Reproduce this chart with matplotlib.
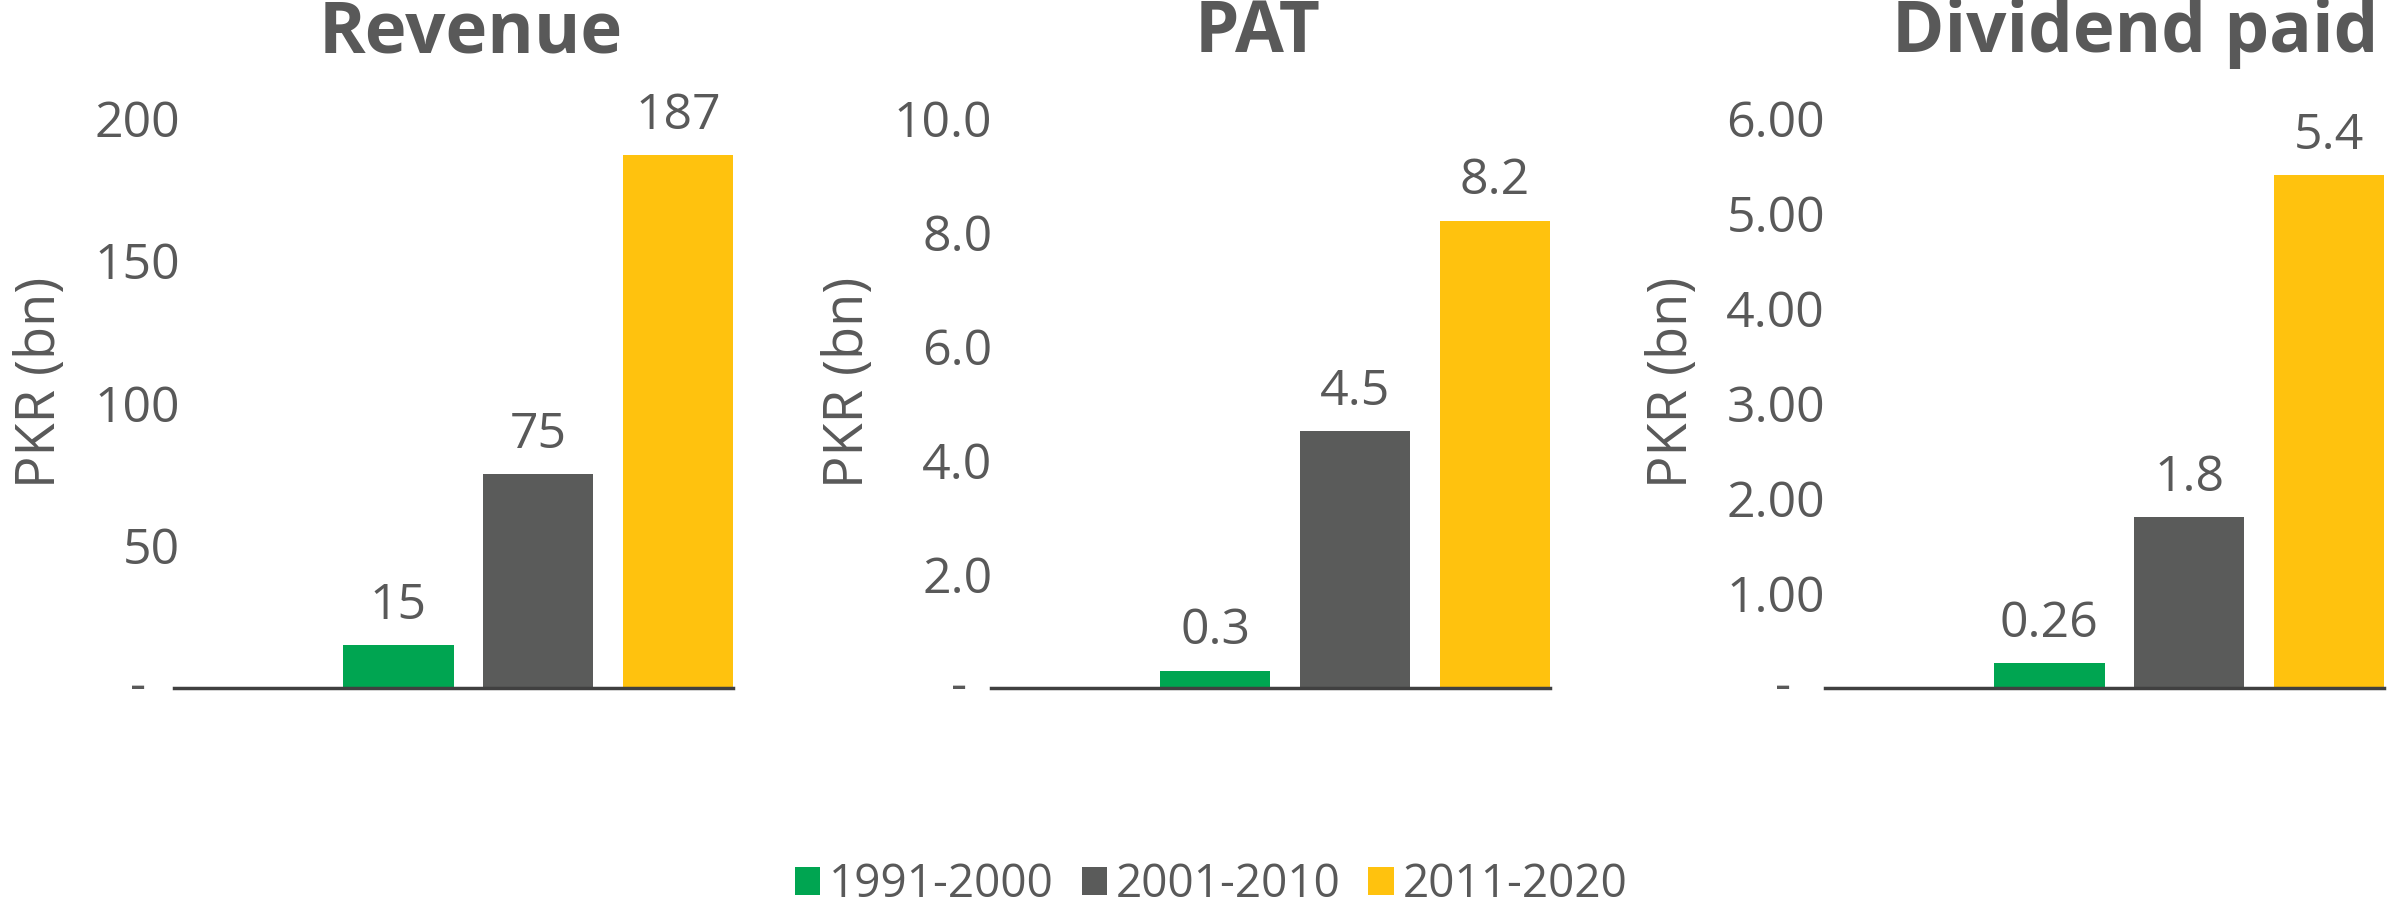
import matplotlib
matplotlib.use("Agg")
import matplotlib.pyplot as plt
from matplotlib.ticker import FuncFormatter
from matplotlib.transforms import blended_transform_factory

# data
periods = ['1991-2000', '2001-2010', '2011-2020']
revenue = [15, 75, 187]
pat = [0.3, 4.5, 8.2]
dividend = [0.26, 1.8, 5.4]

titles = ['Revenue', 'PAT', 'Dividend paid']
value_labels = [['15', '75', '187'], ['0.3', '4.5', '8.2'], ['0.26', '1.8', '5.4']]
y_max = [200, 10, 6]
y_step = [50, 2, 1]
y_decimals = [0, 1, 2]

colors = ['#00A551', '#5A5B5A', '#FFC20E']
text_color = '#595959'

plt.rcParams['font.family'] = ['Open Sans', 'DejaVu Sans']

fig = plt.figure(figsize=(24.08, 9.05), dpi=100)

# axes boxes in figure fractions
lefts = [0.0723, 0.4115, 0.7579]
width = 0.2323
bottom = 0.2398
height = 0.6298
title_x = [0.53, 0.477, 0.555]
ylabel_x = [-0.238, -0.255, -0.273]
dash_x = [-0.064, -0.057, -0.075]
tick_pad = [-4, -1, 0]

all_series = [revenue, pat, dividend]
positions = [1, 2, 3]

for i in range(3):
    ax = fig.add_axes([lefts[i], bottom, width, height])
    vals = all_series[i]
    bars = ax.bar(positions, vals, width=0.79, color=colors, label=periods, zorder=2)

    for b, lab in zip(bars, value_labels[i]):
        ax.annotate(lab, (b.get_x() + b.get_width() / 2, b.get_height()),
                    xytext=(0, 19), textcoords='offset points',
                    ha='center', va='baseline', fontsize=36, color=text_color)

    ax.set_xlim(-0.604, 3.396)
    ax.set_ylim(0, y_max[i])
    ticks = [k * y_step[i] for k in range(int(round(y_max[i] / y_step[i])) + 1)]
    ax.set_yticks(ticks)
    dec = y_decimals[i]
    ax.yaxis.set_major_formatter(FuncFormatter(
        lambda v, p, d=dec: '' if abs(v) < 1e-9 else f'{v:.{d}f}'))
    ax.tick_params(axis='y', length=0, pad=tick_pad[i], labelsize=36, labelcolor=text_color)
    ax.set_xticks([])

    # zero shown as a dash, like accounting format
    trans = blended_transform_factory(ax.transAxes, ax.transData)
    ax.text(dash_x[i], 0, '-', transform=trans, ha='center', va='center',
            fontsize=36, color=text_color)

    for s in ['top', 'right', 'left']:
        ax.spines[s].set_visible(False)
    ax.spines['bottom'].set_color('#404040')
    ax.spines['bottom'].set_linewidth(2.5)
    ax.spines['bottom'].set_zorder(3)

    ax.set_title(titles[i], x=title_x[i], y=1.115, pad=0, fontsize=51,
                 fontweight='bold', color=text_color)
    ax.text(ylabel_x[i], 0.537, 'PKR (bn)', transform=ax.transAxes, rotation=90,
            ha='center', va='center', fontsize=39, color=text_color)

    if i == 0:
        handles = bars

fig.legend(handles, periods, loc='center', bbox_to_anchor=(0.503, 0.022),
           ncol=3, frameon=False, fontsize=33, labelcolor=text_color,
           handlelength=0.55, handleheight=0.55, handletextpad=0.2,
           columnspacing=0.6, borderaxespad=0)

fig.savefig('out.png', dpi=100)
